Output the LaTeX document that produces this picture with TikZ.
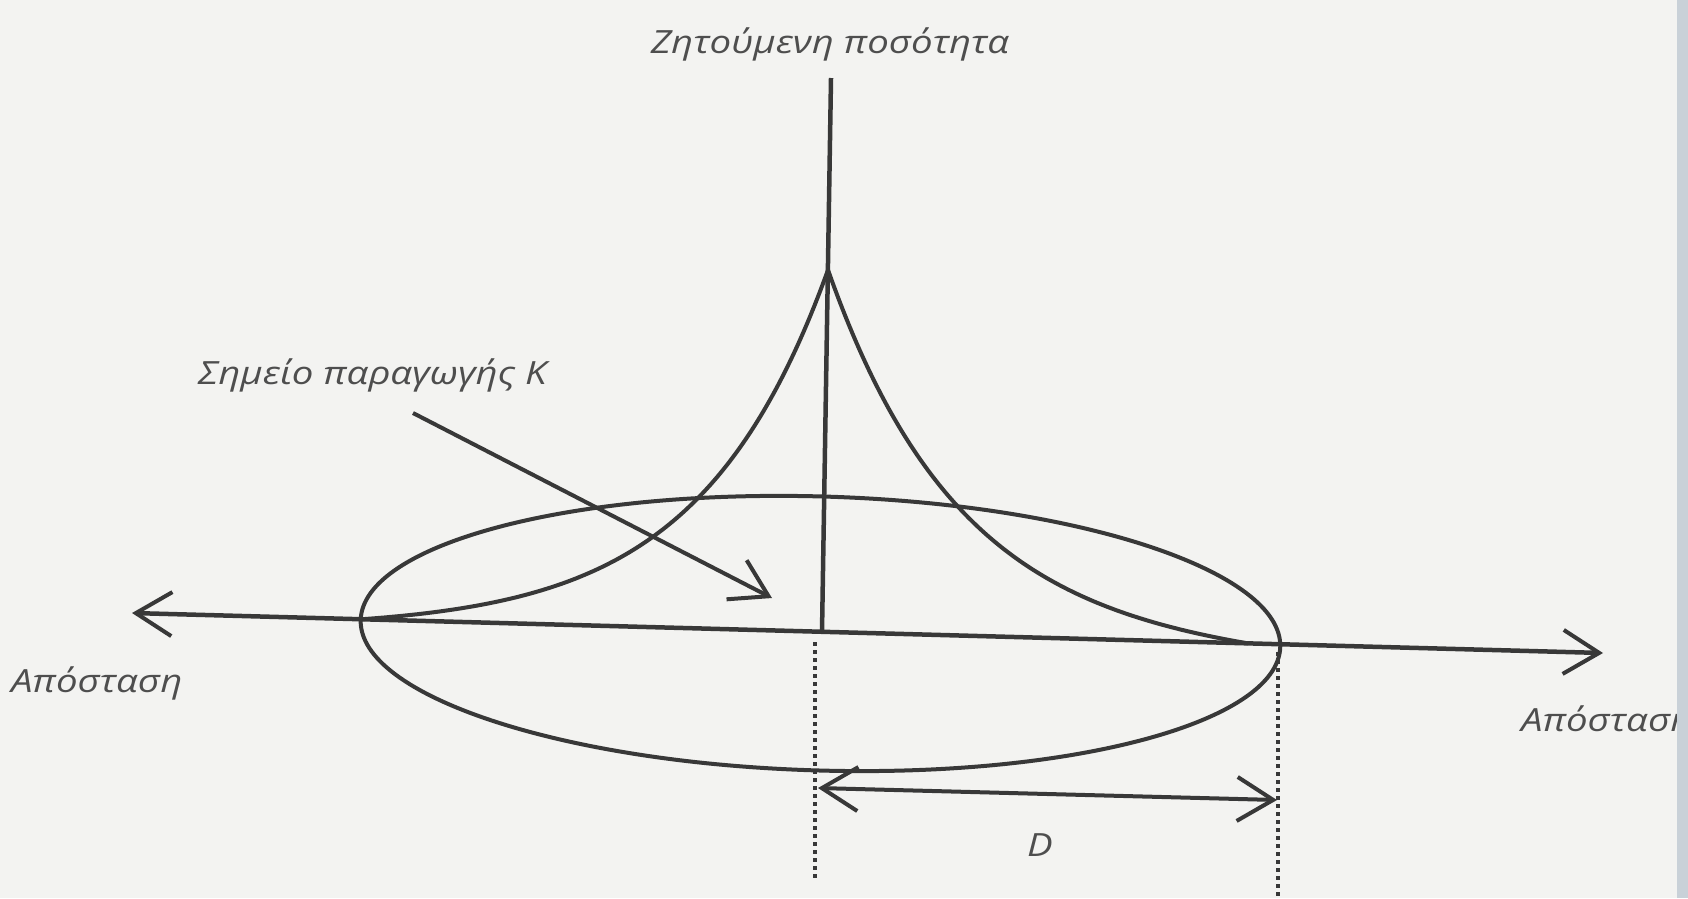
\documentclass[tikz,border=0pt]{standalone}
\usepackage{fontspec}
\setmainfont{Open Sans}[FakeStretch=1.2]
\usetikzlibrary{arrows.meta}
\definecolor{ink}{HTML}{383838}
\definecolor{txt}{HTML}{4E4E4E}
\definecolor{paper}{HTML}{F3F3F1}
\definecolor{strip}{HTML}{C9D1D8}
\tikzset{vtip/.tip={Straight Barb[length=36pt,width=44pt,line width=4pt]}}
\begin{document}
\begin{tikzpicture}[x=1pt,y=-1pt,
  axisline/.style={draw=ink, line width=4.5pt},
  curveline/.style={draw=ink, line width=4pt},
  dots/.style={draw=ink, line width=3.5pt, dash pattern=on 3.5pt off 4.5pt},
  lab/.style={font=\itshape\fontsize{32}{38}\selectfont, text=txt, inner sep=0pt}]
\useasboundingbox (0,0) rectangle (1688,898);
\fill[paper] (0,0) rectangle (1688,898);
% coordinates
\coordinate (axL) at (132,613);
\coordinate (axR) at (1603,653);
\coordinate (vTop) at (831,78);
\coordinate (vBot) at (822,632);
\coordinate (kStart) at (413,413);
\coordinate (kTip) at (772,598);
\coordinate (dL) at (818,788);
\coordinate (dR) at (1277,800);
\coordinate (dotLa) at (815,642);
\coordinate (dotLb) at (815,882);
\coordinate (dotRa) at (1278,652);
\coordinate (dotRb) at (1278,898);
\coordinate (ec) at (820.5,633.5);
% ellipse
\draw[curveline, rotate around={-1.68:(ec)}] (ec) ellipse [x radius=460, y radius=137];
% cusp curves
\draw[curveline] plot[domain=0:467, samples=160, variable=\u, smooth]
  ({828-\u},{613+0.0272*(696-\u)-362*exp(-\u/130)+10*\u/467});
\draw[curveline] plot[domain=0:420, samples=160, variable=\u, smooth]
  ({828+\u},{613+0.0272*(696+\u)-362*exp(-\u/130)+14.3*\u/420});
% axes
\draw[axisline, vtip-vtip] (axL) -- (axR);
\draw[axisline] (vTop) -- (vBot);
% K arrow
\draw[curveline, -vtip] (kStart) -- (kTip);
% dotted guides
\draw[dots] (dotLa) -- (dotLb);
\draw[dots] (dotRa) -- (dotRb);
% D arrow
\draw[curveline, vtip-vtip] (dL) -- (dR);
% labels
\node[lab] (ztitle) at (830,44) {Ζητούμενη ποσότητα};
\node[lab, anchor=west] (klab) at (198,375) {Σημείο παραγωγής Κ};
\node[lab, anchor=west] (apL) at (11,683) {Απόσταση};
\node[lab, anchor=west] (apR) at (1521,722) {Απόσταση};
\node[lab] (dlab) at (1040,845) {D};
% right scan strip
\fill[strip] (1677,0) rectangle (1688,898);
\end{tikzpicture}
\end{document}
